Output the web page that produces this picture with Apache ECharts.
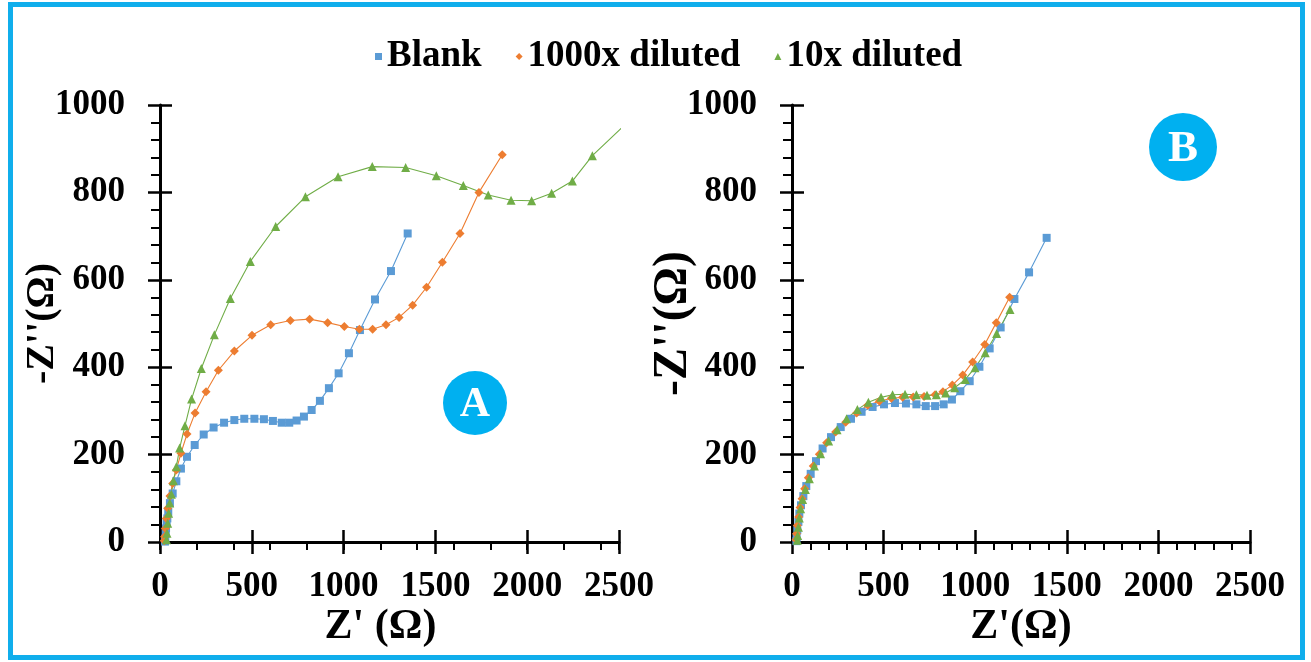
<!DOCTYPE html>
<html lang="en">
<head>
    <meta charset="UTF-8">
    <title>Nyquist plots</title>
    <script src="https://cdn.jsdelivr.net/npm/echarts@6.0.0/dist/echarts.min.js"></script>
    <style>
        html, body { margin: 0; padding: 0; background: #fff; }
    </style>
</head>
<body>
<div id="chartDiv" style="width: 1311px;height:662px;"></div>
<script>
    // series names
    var names = ['Blank', '1000x diluted', '10x diluted'];

    // panel A  [Z', -Z'']
    var blankA = [[27,1],[29,8],[31,20],[33,31],[36,43],[40,54],[45,69],[54,89],[69,111],[89,139],[114,168],[147,195],[189,222],[238,246],[292,262],[349,273],[405,279],[459,282],[514,282],[566,281],[615,277],[663,273],[704,273],[744,278],[784,287],[826,302],[871,323],[920,352],[973,386],[1029,432],[1089,485],[1171,555],[1258,620],[1349,706]];
    var dil1000A = [[23,3],[25,12],[29,31],[34,54],[42,77],[54,105],[69,134],[89,165],[114,203],[147,247],[191,295],[251,344],[318,393],[405,437],[501,473],[603,497],[710,507],[815,510],[913,502],[1004,493],[1086,487],[1158,487],[1231,497],[1302,514],[1376,542],[1452,583],[1538,640],[1634,706],[1737,800],[1864,886]];
    var dil10A = [[35,5],[38,20],[42,43],[47,66],[53,89],[62,109],[73,140],[89,172],[107,215],[136,266],[172,327],[225,397],[296,474],[383,557],[492,642],[630,722],[792,790],[970,836],[1156,859],[1338,857],[1505,838],[1652,816],[1788,794],[1912,782],[2024,781],[2133,798],[2246,826],[2355,884],[2620,990]];

    // panel B
    var blankB = [[24,2],[25,11],[29,27],[35,46],[40,65],[49,84],[62,105],[78,128],[102,156],[131,185],[167,214],[213,240],[266,263],[322,282],[380,298],[440,309],[502,315],[562,318],[622,317],[679,315],[730,311],[781,311],[828,315],[873,326],[919,345],[970,368],[1023,401],[1079,443],[1139,491],[1214,556],[1294,617],[1390,696]];
    var dil1000B = [[22,5],[25,19],[29,38],[36,57],[44,79],[55,99],[69,122],[89,147],[116,174],[149,201],[189,227],[238,252],[293,274],[353,295],[413,313],[477,322],[542,329],[604,331],[662,332],[721,333],[781,337],[824,344],[875,359],[932,382],[986,412],[1052,452],[1115,502],[1188,560]];
    var dil10B = [[29,4],[31,15],[35,34],[40,55],[47,76],[58,97],[73,120],[95,145],[122,174],[156,202],[200,231],[246,257],[298,282],[357,303],[417,320],[486,331],[549,337],[617,338],[679,337],[737,336],[788,337],[839,341],[888,353],[946,372],[999,399],[1055,433],[1117,477],[1190,532]];

    var colors = ['#5B9BD5', '#ED7D31', '#70AD47'];
    var symbols = ['rect', 'diamond', 'triangle'];
    var symbolSizes = [8, 9, 9];
    var serif = "'Liberation Serif', 'Times New Roman', serif";

    function plain(v) { return String(v); }

    function mainX(grid, name, minorSplit, pad) {
        return {
            type: 'value', gridIndex: grid, position: 'bottom', min: 0, max: 2500, interval: 500,
            name: name, nameLocation: 'middle', nameGap: 64, nameMoveOverlap: false,
            nameTextStyle: { fontSize: 42, fontWeight: 'bold', fontFamily: serif, color: '#000', padding: pad },
            axisLine: { onZero: false, lineStyle: { color: '#000', width: 3 } },
            axisTick: { length: 12, lineStyle: { color: '#000', width: 2.5 } },
            minorTick: { show: minorSplit > 0, splitNumber: minorSplit || 5, length: 8, lineStyle: { color: '#000', width: 2 } },
            axisLabel: { margin: 27, fontSize: 35, fontWeight: 'bold', fontFamily: serif, color: '#000', formatter: plain },
            splitLine: { show: false }
        };
    }
    function tickX(grid, interval, inside, len) {
        return {
            type: 'value', gridIndex: grid, position: 'bottom', min: 0, max: 2500, interval: interval,
            axisLine: { show: false, onZero: false },
            axisTick: { inside: inside, length: len, lineStyle: { color: '#000', width: inside ? 2.5 : 2 } },
            axisLabel: { show: false }, splitLine: { show: false }
        };
    }
    function mainY(grid, name, nameSize, nameGap) {
        return {
            type: 'value', gridIndex: grid, position: 'left', min: 0, max: 1000, interval: 200,
            name: name, nameLocation: 'middle', nameGap: nameGap, nameRotate: 90, nameMoveOverlap: false,
            nameTextStyle: { fontSize: nameSize, fontWeight: 'bold', fontFamily: serif, color: '#000' },
            axisLine: { onZero: false, lineStyle: { color: '#000', width: 3 } },
            axisTick: { length: 12, lineStyle: { color: '#000', width: 2.5 } },
            minorTick: { show: true, splitNumber: 5, length: 9, lineStyle: { color: '#000', width: 2 } },
            axisLabel: { margin: 35, fontSize: 35, fontWeight: 'bold', fontFamily: serif, color: '#000', formatter: plain },
            splitLine: { show: false }
        };
    }
    function insideY(grid) {
        return {
            type: 'value', gridIndex: grid, position: 'left', min: 0, max: 1000, interval: 200,
            axisLine: { show: false, onZero: false },
            axisTick: { inside: true, length: 12, lineStyle: { color: '#000', width: 2.5 } },
            axisLabel: { show: false }, splitLine: { show: false }
        };
    }
    function makeSeries(i, data, xi, yi) {
        return {
            name: names[i], type: 'line', data: data, xAxisIndex: xi, yAxisIndex: yi,
            symbol: symbols[i], symbolSize: symbolSizes[i], showAllSymbol: true, clip: true,
            itemStyle: { color: colors[i] },
            lineStyle: { color: colors[i], width: 1.1 }
        };
    }

    var chart = echarts.init(document.getElementById('chartDiv'));
    var option = {
        animation: false,
        backgroundColor: '#fff',
        legend: {
            left: 370, top: 33, itemWidth: 7, itemHeight: 7, itemGap: 34,
            textStyle: { fontSize: 37, fontWeight: 'bold', fontFamily: serif, color: '#000' },
            data: [
                { name: names[0], icon: 'rect' },
                { name: names[1], icon: 'diamond' },
                { name: names[2], icon: 'triangle' }
            ]
        },
        grid: [
            { left: 160, top: 105, width: 459, height: 437 },
            { left: 792, top: 105, width: 458, height: 437 }
        ],
        xAxis: [
            mainX(0, "Z' (\u03A9)", 0, [0, 18, 0, 0]),
            tickX(0, 500, true, 12),
            tickX(0, 200, false, 8),
            mainX(1, "Z'(\u03A9)", 5, 0),
            tickX(1, 500, true, 12)
        ],
        yAxis: [
            mainY(0, "-Z''(\u03A9)", 40, 97),
            insideY(0),
            mainY(1, "-Z''(\u03A9)", 48, 94),
            insideY(1)
        ],
        graphic: [
            { type: 'rect', shape: { x: 10.5, y: 4.5, width: 1292, height: 653 }, style: { fill: 'none', stroke: '#10AEEC', lineWidth: 5 } },
            { type: 'circle', shape: { cx: 475, cy: 403, r: 32 }, style: { fill: '#00B0F0' } },
            { type: 'text', x: 475, y: 405, style: { text: 'A', fill: '#fff', font: 'bold 42px ' + serif, align: 'center', verticalAlign: 'middle' } },
            { type: 'circle', shape: { cx: 1183, cy: 147, r: 34 }, style: { fill: '#00B0F0' } },
            { type: 'text', x: 1183, y: 149, style: { text: 'B', fill: '#fff', font: 'bold 45px ' + serif, align: 'center', verticalAlign: 'middle' } }
        ],
        series: [
            makeSeries(0, blankA, 0, 0),
            makeSeries(1, dil1000A, 0, 0),
            makeSeries(2, dil10A, 0, 0),
            makeSeries(0, blankB, 3, 2),
            makeSeries(1, dil1000B, 3, 2),
            makeSeries(2, dil10B, 3, 2)
        ]
    };
    chart.setOption(option);
</script>
</body>
</html>
